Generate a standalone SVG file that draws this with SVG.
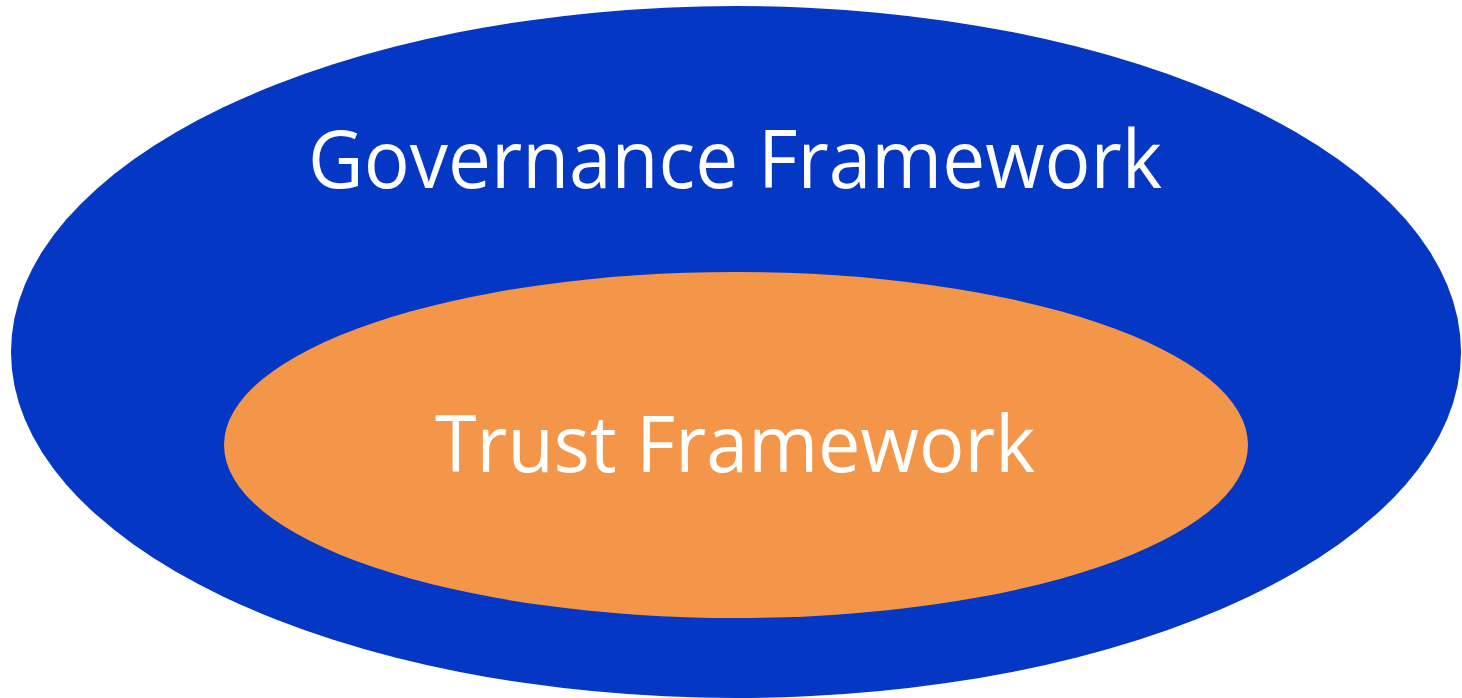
<svg xmlns="http://www.w3.org/2000/svg" width="1462" height="698" viewBox="0 0 1462 698">
<style>
.lbl{font-family:"Open Sans","Noto Sans",sans-serif;fill:#ffffff;text-anchor:middle}
</style>
<rect width="1462" height="698" fill="#ffffff"/>
<g id="governance">
<ellipse cx="736" cy="352" rx="725" ry="346" fill="#0437C4"/>
<text class="lbl" x="735" y="188" font-size="80" textLength="854" lengthAdjust="spacingAndGlyphs">Governance Framework</text>
</g>
<g id="trust">
<ellipse cx="736" cy="445" rx="512" ry="173" fill="#F4964A"/>
<text class="lbl" x="735" y="472" font-size="78" textLength="600" lengthAdjust="spacingAndGlyphs">Trust Framework</text>
</g>
</svg>
